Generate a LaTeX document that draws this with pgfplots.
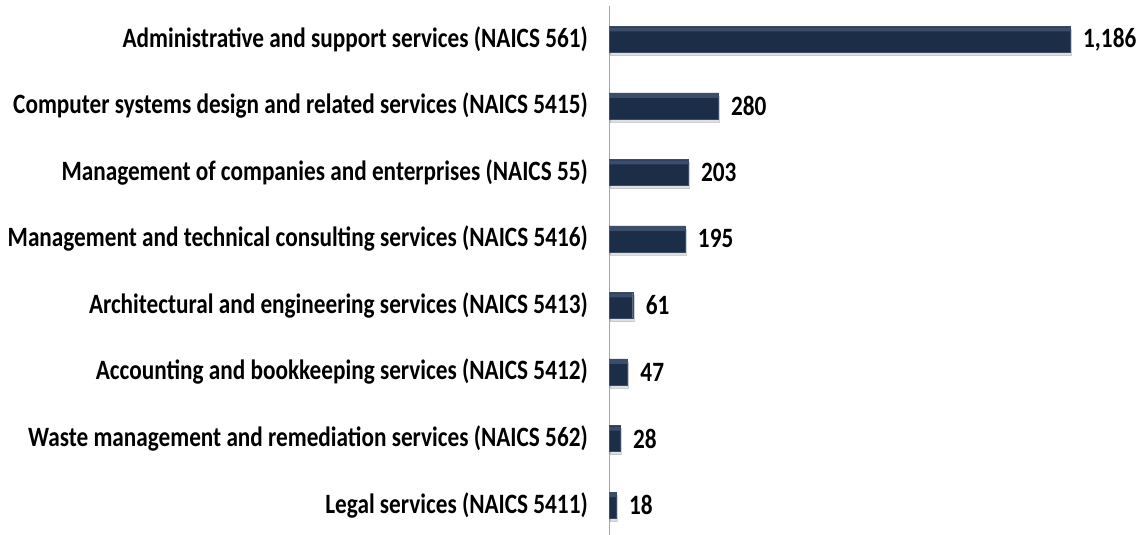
\documentclass[border=0pt]{standalone}
\usepackage{pgfplots}
\pgfplotsset{compat=1.18}
\usetikzlibrary{shadows}
\usepackage{fontspec}
\setmainfont[FakeStretch=0.83]{Carlito}
\definecolor{barc}{RGB}{28,45,72}
\definecolor{barlight}{RGB}{85,105,135}
\pgfplotstableread{
v y
18 0
28 1
47 2
61 3
195 4
203 5
280 6
1186 7
}\datatab
\begin{document}
\begin{tikzpicture}[x=1pt,y=1pt]
\useasboundingbox (0,0) rectangle (1145,535);
\begin{axis}[
 at={(609pt,0pt)}, anchor=south west,
 scale only axis, width=461pt, height=529pt,
 xmin=0, xmax=1186, ymin=-0.45, ymax=7.5,
 xbar, bar width=26pt,
 hide x axis,
 axis y line*=left,
 y axis line style={draw=gray!70, line width=0.8pt},
 ytick={0,...,7},
 yticklabels={Legal services (NAICS 5411),
   Waste management and remediation services (NAICS 562),
   Accounting and bookkeeping services (NAICS 5412),
   Architectural and engineering services (NAICS 5413),
   Management and technical consulting services (NAICS 5416),
   Management of companies and enterprises (NAICS 55),
   Computer systems design and related services (NAICS 5415),
   Administrative and support services (NAICS 561)},
 ytick style={draw=none}, major tick length=0pt,
 yticklabel style={font=\bfseries\fontsize{28}{28}\selectfont, inner sep=0pt, xshift=-21pt, anchor=east},
 /pgf/number format/1000 sep={,},
 /pgf/number format/assume math mode=true,
 clip=false,
]
\addplot[fill=barc, draw=barc!85!white, line width=0.4pt, bar shift=0pt,
  drop shadow={shadow xshift=1pt, shadow yshift=-3pt, opacity=0.25},
  nodes near coords,
  nodes near coords style={font=\bfseries\fontsize{28}{28}\selectfont, anchor=west, inner sep=0pt, xshift=13pt, text=black}]
  table[x=v, y=y] {\datatab};
\addplot[fill=barlight, draw=none, bar width=4pt, bar shift=10pt, opacity=0.55]
  table[x=v, y=y] {\datatab};
\end{axis}
\end{tikzpicture}
\end{document}
